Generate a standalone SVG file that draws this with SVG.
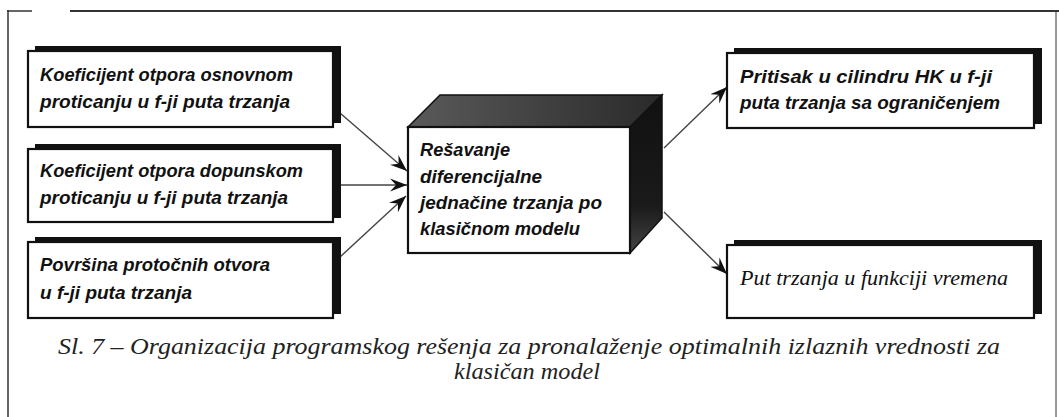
<svg xmlns="http://www.w3.org/2000/svg" width="1059" height="417" viewBox="0 0 1059 417">
<style>
.frame{stroke:#333;fill:none}
.shadow{fill:#111}
.box{fill:#fff;stroke:#111;stroke-width:2.2}
.t{font-family:"Liberation Sans","DejaVu Sans",sans-serif;font-style:italic;font-weight:bold;font-size:19px;fill:#111}
.ts{font-family:"Liberation Serif","DejaVu Serif",serif;font-style:italic;font-size:20px;fill:#111}
.cap{font-family:"Liberation Serif","DejaVu Serif",serif;font-style:italic;font-size:24px;fill:#222}
.conn{stroke:#444;stroke-width:1.4;fill:none;marker-end:url(#arr)}
</style>
<defs>
<marker id="arr" markerUnits="userSpaceOnUse" markerWidth="18" markerHeight="14" refX="17" refY="7" orient="auto">
<path d="M0,0.5 L17,7 L0,13.5 L6,7 z" fill="#111"/>
</marker>
<linearGradient id="topg" x1="0" y1="0" x2="1" y2="0">
<stop offset="0" stop-color="#5a5a5a"/>
<stop offset="1" stop-color="#2a2a2a"/>
</linearGradient>
<linearGradient id="sideg" x1="0" y1="0" x2="0" y2="1">
<stop offset="0" stop-color="#111"/>
<stop offset="0.7" stop-color="#1a1a1a"/>
<stop offset="1" stop-color="#444"/>
</linearGradient>
</defs>

<g id="frame">
<line class="frame" x1="7" y1="11" x2="32" y2="11" stroke-width="1.5" stroke="#777"/>
<line class="frame" x1="70" y1="11" x2="1059" y2="11" stroke-width="2"/>
<line class="frame" x1="8" y1="10" x2="8" y2="417" stroke-width="1.5" stroke="#555"/>
<line class="frame" x1="1056" y1="12" x2="1056" y2="417" stroke-width="1" stroke="#ddd"/>
</g>

<g id="connectors">
<line class="conn" x1="340" y1="113" x2="407" y2="171"/>
<line class="conn" x1="340" y1="185" x2="407" y2="185"/>
<line class="conn" x1="340" y1="257" x2="406" y2="196"/>
<line class="conn" x1="664" y1="148" x2="727" y2="87"/>
<line class="conn" x1="664" y1="212" x2="727" y2="274"/>
</g>

<g id="box1">
<rect class="shadow" x="35" y="46" width="306" height="77"/>
<rect class="box" x="28" y="51" width="305" height="76"/>
<text class="t" x="40" y="81" textLength="253" lengthAdjust="spacingAndGlyphs">Koeficijent otpora osnovnom</text>
<text class="t" x="40" y="108" textLength="250" lengthAdjust="spacingAndGlyphs">proticanju u f-ji puta trzanja</text>
</g>

<g id="box2">
<rect class="shadow" x="35" y="144" width="306" height="74"/>
<rect class="box" x="28" y="149" width="305" height="73"/>
<text class="t" x="40" y="177" textLength="263" lengthAdjust="spacingAndGlyphs">Koeficijent otpora dopunskom</text>
<text class="t" x="40" y="204" textLength="248" lengthAdjust="spacingAndGlyphs">proticanju u f-ji puta trzanja</text>
</g>

<g id="box3">
<rect class="shadow" x="35" y="237" width="306" height="77"/>
<rect class="box" x="28" y="242" width="305" height="76"/>
<text class="t" x="40" y="271" textLength="230" lengthAdjust="spacingAndGlyphs">Površina protočnih otvora</text>
<text class="t" x="40" y="299" textLength="152" lengthAdjust="spacingAndGlyphs">u f-ji puta trzanja</text>
</g>

<g id="cube">
<polygon points="408,127 440,95 662,95 630,127" fill="url(#topg)" stroke="#111" stroke-width="1.5"/>
<polygon points="630,127 662,95 662,218 630,253" fill="url(#sideg)" stroke="#111" stroke-width="1.5"/>
<rect class="box" x="408" y="127" width="222" height="126"/>
<text class="t" x="420" y="156" textLength="90" lengthAdjust="spacingAndGlyphs">Rešavanje</text>
<text class="t" x="420" y="183" textLength="122" lengthAdjust="spacingAndGlyphs">diferencijalne</text>
<text class="t" x="420" y="209" textLength="182" lengthAdjust="spacingAndGlyphs">jednačine trzanja po</text>
<text class="t" x="420" y="235" textLength="160" lengthAdjust="spacingAndGlyphs">klasičnom modelu</text>
</g>

<g id="box4">
<rect class="shadow" x="734" y="48" width="308" height="76"/>
<rect class="box" x="727" y="53" width="307" height="75"/>
<text class="t" x="740" y="83" textLength="252" lengthAdjust="spacingAndGlyphs">Pritisak u cilindru HK u f-ji</text>
<text class="t" x="740" y="109" textLength="260" lengthAdjust="spacingAndGlyphs">puta trzanja sa ograničenjem</text>
</g>

<g id="box5">
<rect class="shadow" x="734" y="240" width="308" height="74"/>
<rect class="box" x="727" y="245" width="307" height="73"/>
<text class="ts" x="740" y="285" textLength="268" lengthAdjust="spacingAndGlyphs">Put trzanja u funkciji vremena</text>
</g>

<g id="caption">
<text class="cap" x="58" y="354" textLength="942" lengthAdjust="spacingAndGlyphs">Sl. 7 – Organizacija programskog rešenja za pronalaženje optimalnih izlaznih vrednosti za</text>
<text class="cap" x="527" y="379" text-anchor="middle" textLength="146" lengthAdjust="spacingAndGlyphs">klasičan model</text>
</g>
</svg>
